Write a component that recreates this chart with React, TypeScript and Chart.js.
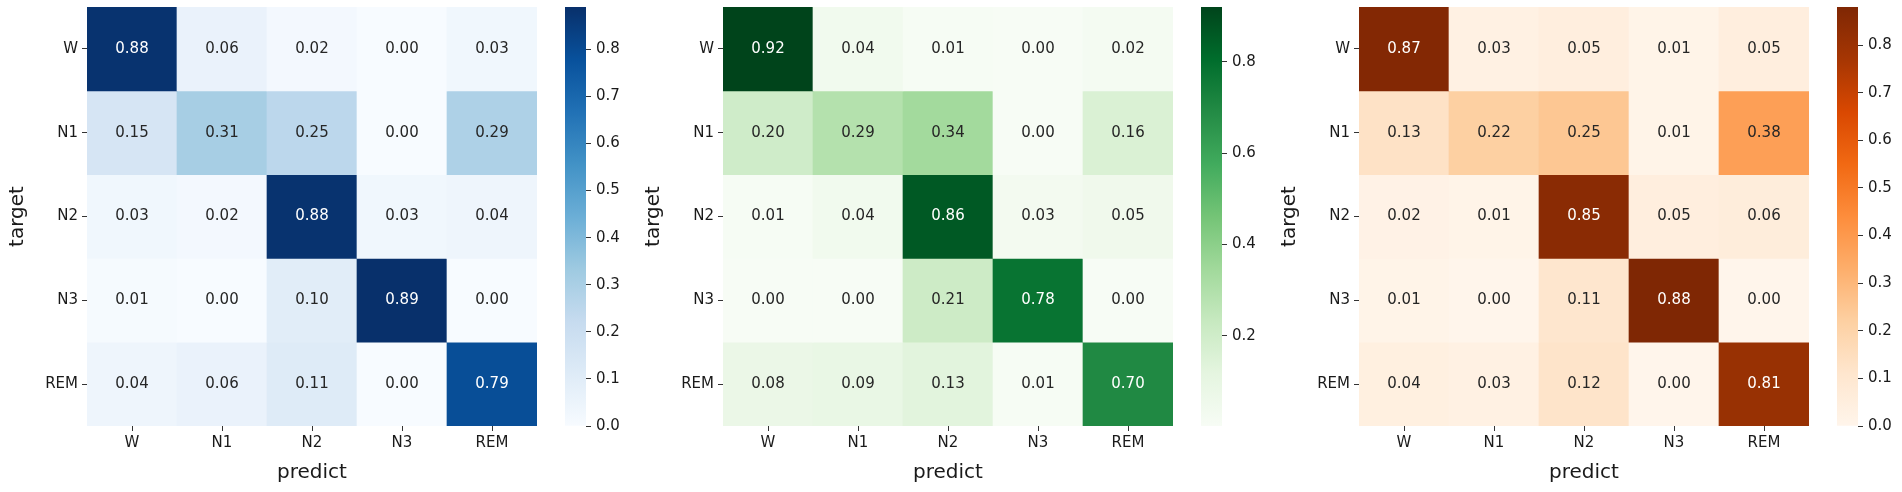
import React, { useEffect, useRef } from "react";
import { Chart, registerables } from "chart.js";

Chart.register(...registerables);
Chart.defaults.font.family = '"DejaVu Sans"';
Chart.defaults.color = "#1a1a1a";

// sleep stages, used for both axes
const stages = ["W", "N1", "N2", "N3", "REM"];

// rows = target, columns = predict
const bluesValues = [
  [0.88, 0.06, 0.02, 0.0, 0.03],
  [0.15, 0.31, 0.25, 0.0, 0.29],
  [0.03, 0.02, 0.88, 0.03, 0.04],
  [0.01, 0.0, 0.1, 0.89, 0.0],
  [0.04, 0.06, 0.11, 0.0, 0.79],
];
const greensValues = [
  [0.92, 0.04, 0.01, 0.0, 0.02],
  [0.2, 0.29, 0.34, 0.0, 0.16],
  [0.01, 0.04, 0.86, 0.03, 0.05],
  [0.0, 0.0, 0.21, 0.78, 0.0],
  [0.08, 0.09, 0.13, 0.01, 0.7],
];
const orangesValues = [
  [0.87, 0.03, 0.05, 0.01, 0.05],
  [0.13, 0.22, 0.25, 0.01, 0.38],
  [0.02, 0.01, 0.85, 0.05, 0.06],
  [0.01, 0.0, 0.11, 0.88, 0.0],
  [0.04, 0.03, 0.12, 0.0, 0.81],
];

// colour bar ranges and tick labels
const bluesRange = [0, 0.89];
const greensRange = [0.003, 0.92];
const orangesRange = [0, 0.88];
const bluesTicks = [0, 0.1, 0.2, 0.3, 0.4, 0.5, 0.6, 0.7, 0.8];
const greensTicks = [0.2, 0.4, 0.6, 0.8];
const orangesTicks = [0, 0.1, 0.2, 0.3, 0.4, 0.5, 0.6, 0.7, 0.8];

// matplotlib sequential colormaps (ColorBrewer)
const blues = ["#f7fbff", "#deebf7", "#c6dbef", "#9ecae1", "#6baed6", "#4292c6", "#2171b5", "#08519c", "#08306b"];
const greens = ["#f7fcf5", "#e5f5e0", "#c7e9c0", "#a1d99b", "#74c476", "#41ab5d", "#238b45", "#006d2c", "#00441b"];
const oranges = ["#fff5eb", "#fee6ce", "#fdd0a2", "#fdae6b", "#fd8d3c", "#f16913", "#d94801", "#a63603", "#7f2704"];

const PANEL_W = 636;
const TEXT = "#1a1a1a";

const hexToRgb = (h: string) => [1, 3, 5].map((k) => parseInt(h.slice(k, k + 2), 16));

const sampleCmap = (cmap: string[], t: number) => {
  const tt = Math.min(1, Math.max(0, t));
  const pos = tt * (cmap.length - 1);
  const i = Math.min(Math.floor(pos), cmap.length - 2);
  const f = pos - i;
  const a = hexToRgb(cmap[i]);
  const b = hexToRgb(cmap[i + 1]);
  return a.map((c, k) => Math.round(c + (b[k] - c) * f));
};

// same rule seaborn uses to pick the annotation colour
const luminance = (rgb: number[]) => {
  const lin = rgb.map((c) => {
    const v = c / 255;
    return v <= 0.03928 ? v / 12.92 : Math.pow((v + 0.055) / 1.055, 2.4);
  });
  return 0.2126 * lin[0] + 0.7152 * lin[1] + 0.0722 * lin[2];
};

type HeatProps = { values: number[][]; cmap: string[]; range: number[]; left: number };

const Heatmap: React.FC<HeatProps> = ({ values, cmap, range, left }) => {
  const ref = useRef<HTMLCanvasElement>(null);

  useEffect(() => {
    if (!ref.current) return;
    const [vmin, vmax] = range;
    const colorOf = (v: number) => sampleCmap(cmap, (v - vmin) / (vmax - vmin));

    const datasets = values.map((row, i) => ({
      label: stages[i],
      data: row.map(() => 1),
      backgroundColor: row.map((v) => `rgb(${colorOf(v).join(",")})`),
      borderWidth: 0,
      barPercentage: 1,
      categoryPercentage: 1,
    }));

    const cellText = {
      id: "cellText",
      afterDatasetsDraw(chart: any) {
        const c = chart.ctx;
        c.save();
        c.font = '15px "DejaVu Sans"';
        c.textAlign = "center";
        c.textBaseline = "middle";
        values.forEach((row, i) => {
          const meta = chart.getDatasetMeta(i);
          row.forEach((v, j) => {
            const el = meta.data[j];
            const { x, y, base } = el.getProps(["x", "y", "base"], true);
            c.fillStyle = luminance(colorOf(v)) > 0.408 ? "#262626" : "#ffffff";
            c.fillText(v.toFixed(2), x, (y + base) / 2);
          });
        });
        c.restore();
      },
    };

    const chart = new Chart(ref.current, {
      type: "bar",
      data: { labels: stages, datasets },
      options: {
        animation: false,
        responsive: false,
        events: [],
        layout: { padding: { top: 7, right: 23, left: 0, bottom: 0 } },
        plugins: { legend: { display: false }, tooltip: { enabled: false } },
        scales: {
          x: {
            stacked: true,
            grid: { offset: false, drawOnChartArea: false, tickLength: 5, color: "#333" },
            border: { display: false },
            ticks: { color: TEXT, font: { size: 15 }, padding: 3, maxRotation: 0, autoSkip: false },
            title: { display: true, text: "predict", color: TEXT, font: { size: 20 }, padding: { top: 0, bottom: 7 } },
            afterFit: (s: any) => {
              s.height = 66;
              s.paddingLeft = 0;
              s.paddingRight = 0;
            },
          },
          y: {
            type: "linear",
            stacked: true,
            reverse: true,
            min: 0,
            max: stages.length,
            grid: { drawOnChartArea: false, tickLength: 5, color: "#333" },
            border: { display: false },
            afterBuildTicks: (s: any) => {
              s.ticks = stages.map((_, i) => ({ value: i + 0.5 }));
            },
            ticks: {
              color: TEXT,
              font: { size: 15 },
              padding: 4,
              callback: (_v: any, i: number) => stages[i],
            },
            title: { display: true, text: "target", color: TEXT, font: { size: 20 }, padding: { top: 6, bottom: 0 } },
            afterFit: (s: any) => {
              s.width = 87;
              s.paddingTop = 0;
              s.paddingBottom = 0;
            },
          },
        },
      } as any,
      plugins: [cellText],
    });

    return () => chart.destroy();
  }, []);

  return (
    <canvas
      ref={ref}
      width={560}
      height={492}
      style={{ position: "absolute", left, top: 0, width: 560, height: 492 }}
    />
  );
};

type BarProps = { cmap: string[]; range: number[]; ticks: number[]; left: number };

const Colorbar: React.FC<BarProps> = ({ cmap, range, ticks, left }) => {
  const ref = useRef<HTMLCanvasElement>(null);

  useEffect(() => {
    if (!ref.current) return;
    const chart = new Chart(ref.current, {
      type: "bar",
      data: {
        labels: [""],
        datasets: [
          {
            data: [[range[0], range[1]]],
            backgroundColor: (ctx: any) => {
              const area = ctx.chart.chartArea;
              if (!area) return cmap[0];
              const g = ctx.chart.ctx.createLinearGradient(0, area.bottom, 0, area.top);
              cmap.forEach((col, i) => g.addColorStop(i / (cmap.length - 1), col));
              return g;
            },
            borderWidth: 0,
            barPercentage: 1,
            categoryPercentage: 1,
          },
        ],
      },
      options: {
        animation: false,
        responsive: false,
        events: [],
        layout: { padding: { left: 10, top: 7, bottom: 66, right: 0 } },
        plugins: { legend: { display: false }, tooltip: { enabled: false } },
        scales: {
          x: { display: false },
          y: {
            position: "right",
            min: range[0],
            max: range[1],
            grid: { drawOnChartArea: false, tickLength: 5, color: "#333" },
            border: { display: false },
            afterBuildTicks: (s: any) => {
              s.ticks = ticks.map((v) => ({ value: v }));
            },
            ticks: {
              color: TEXT,
              font: { size: 15 },
              padding: 5,
              callback: (v: any) => Number(v).toFixed(1),
            },
            afterFit: (s: any) => {
              s.width = 50;
              s.paddingTop = 0;
              s.paddingBottom = 0;
            },
          },
        },
      } as any,
    });

    return () => chart.destroy();
  }, []);

  return (
    <canvas
      ref={ref}
      width={81}
      height={492}
      style={{ position: "absolute", left, top: 0, width: 81, height: 492 }}
    />
  );
};

const panels = [
  { values: bluesValues, cmap: blues, range: bluesRange, ticks: bluesTicks },
  { values: greensValues, cmap: greens, range: greensRange, ticks: greensTicks },
  { values: orangesValues, cmap: oranges, range: orangesRange, ticks: orangesTicks },
];

const App: React.FC = () => {
  useEffect(() => {
    document.body.style.margin = "0";
  }, []);

  return (
    <div style={{ position: "relative", width: 1902, height: 492, background: "#fff", overflow: "hidden" }}>
      {panels.map((p, i) => (
        <React.Fragment key={i}>
          <Heatmap values={p.values} cmap={p.cmap} range={p.range} left={i * PANEL_W} />
          <Colorbar cmap={p.cmap} range={p.range} ticks={p.ticks} left={i * PANEL_W + 555} />
        </React.Fragment>
      ))}
    </div>
  );
};

export default App;
